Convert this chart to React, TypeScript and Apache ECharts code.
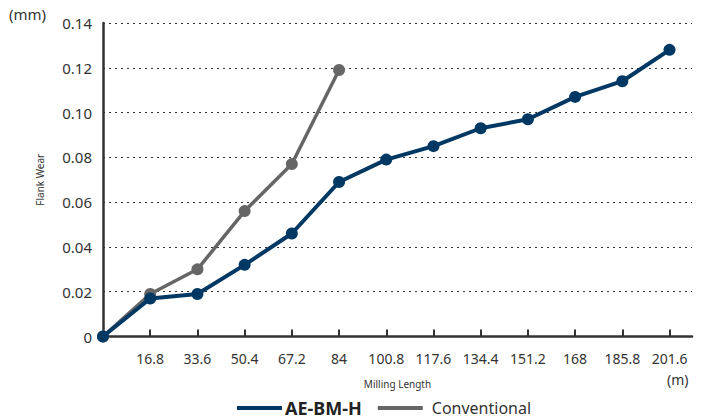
import React, { useEffect, useRef } from "react";
import * as echarts from "echarts";

const lengths = [0, 16.8, 33.6, 50.4, 67.2, 84, 100.8, 117.6, 134.4, 151.2, 168, 184.8, 201.6];
const tickLabels = ["", "16.8", "33.6", "50.4", "67.2", "84", "100.8", "117.6", "134.4", "151.2", "168", "185.8", "201.6"];
const aeValues = [0, 0.017, 0.019, 0.032, 0.046, 0.069, 0.079, 0.085, 0.093, 0.097, 0.107, 0.114, 0.128];
const convValues = [0, 0.019, 0.03, 0.056, 0.077, 0.119];
const seriesNames = ["AE-BM-H", "Conventional"];

const FONT = "'Noto Sans', sans-serif";
const TXT = "#333";
const NAVY = "#003864";
const GRAY = "#666666";

export default function App() {
  const ref = useRef<HTMLDivElement>(null);
  useEffect(() => {
    if (!ref.current) return;
    const chart = echarts.init(ref.current, null, { renderer: "svg" });
    const step = 16.8;
    chart.setOption({
      animation: false,
      backgroundColor: "#fff",
      textStyle: { fontFamily: FONT, color: TXT },
      grid: { left: 103, right: 12, top: 23, bottom: 83.5, containLabel: false },
      legend: {
        left: 237,
        top: 399,
        padding: 0,
        itemWidth: 45,
        itemHeight: 4,
        itemGap: 16,
        icon: "rect",
        data: [
          { name: seriesNames[0], textStyle: { fontSize: 18, fontWeight: "bold", color: "#222", fontFamily: FONT, padding: [0, 0, 0, -2] } },
          { name: seriesNames[1], textStyle: { fontSize: 16, color: TXT, fontFamily: FONT, padding: [0, 0, 0, 4] } },
        ],
      },
      xAxis: {
        type: "value",
        min: 0,
        max: 209.6,
        interval: step,
        name: "Milling Length",
        nameLocation: "middle",
        nameGap: 42,
        nameTextStyle: { fontSize: 10, color: TXT, fontFamily: FONT },
        axisLine: { show: true, lineStyle: { color: "#333", width: 2.5 } },
        axisTick: {
          show: true,
          inside: true,
          length: 7,
          lineStyle: { color: "#333", width: 2 },
          customValues: lengths.slice(1),
        },
        axisLabel: {
          fontSize: 14,
          color: TXT,
          margin: 15,
          fontFamily: FONT,
          customValues: lengths.slice(1),
          formatter: (v: number) => tickLabels[Math.round(v / step)] ?? "",
        },
        splitLine: { show: false },
      },
      yAxis: {
        type: "value",
        min: 0,
        max: 0.14,
        interval: 0.02,
        name: "Flank Wear",
        nameLocation: "middle",
        nameRotate: 90,
        nameGap: 58,
        nameTextStyle: { fontSize: 10, color: TXT, fontFamily: FONT },
        axisLine: { show: true, lineStyle: { color: "#333", width: 2.5 } },
        axisTick: { show: false },
        axisLabel: {
          fontSize: 15,
          color: TXT,
          margin: 11,
          fontFamily: FONT,
          formatter: (v: number) => (v === 0 ? "0" : v.toFixed(2)),
        },
        splitLine: { show: true, lineStyle: { color: "#333", width: 1, type: [2, 4] } },
      },
      graphic: [
        { type: "text", left: 9, top: 6, style: { text: "(mm)", fontSize: 15, fill: TXT, fontFamily: FONT } },
        { type: "text", left: 667, top: 372, style: { text: "(m)", fontSize: 14, fill: TXT, fontFamily: FONT } },
      ],
      series: [
        {
          name: seriesNames[1],
          type: "line",
          data: convValues.map((v, i) => [lengths[i], v]),
          symbol: "circle",
          symbolSize: 12,
          itemStyle: { color: GRAY },
          lineStyle: { color: GRAY, width: 3.5 },
          z: 2,
        },
        {
          name: seriesNames[0],
          type: "line",
          data: aeValues.map((v, i) => [lengths[i], v]),
          symbol: "circle",
          symbolSize: 12,
          itemStyle: { color: NAVY },
          lineStyle: { color: NAVY, width: 4 },
          z: 3,
        },
      ],
    });
    return () => chart.dispose();
  }, []);
  return <div ref={ref} style={{ width: 704, height: 420, position: "absolute", left: 0, top: 0 }} />;
}
